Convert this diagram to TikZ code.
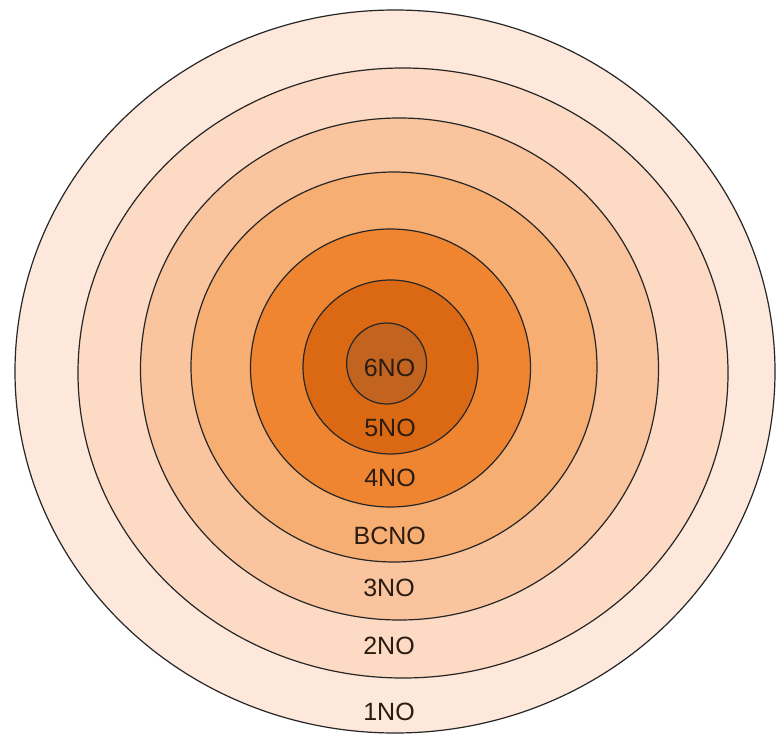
\documentclass[tikz,border=0pt]{standalone}
\usepackage{fontspec}
\setmainfont{Liberation Sans}
\definecolor{cA}{HTML}{FDE8DB}
\definecolor{cB}{HTML}{FCDAC4}
\definecolor{cC}{HTML}{FAC49E}
\definecolor{cD}{HTML}{F7AE72}
\definecolor{cE}{HTML}{EF8530}
\definecolor{cF}{HTML}{DB6914}
\definecolor{cG}{HTML}{C2641F}
\definecolor{txt}{HTML}{2A1C12}
\begin{document}
\begin{tikzpicture}[x=1pt,y=-1pt,
  ring/.style={draw=black!85,line width=1.2pt},
  lbl/.style={text=txt,font=\fontsize{25}{30}\selectfont,inner sep=0pt}]
\useasboundingbox (0,0) rectangle (776,735);
\fill[white] (0,0) rectangle (776,735);
\draw[ring,fill=cA] (395,371.5) ellipse [x radius=380,y radius=361.5];
\draw[ring,fill=cB] (403,373) ellipse [x radius=325,y radius=305];
\draw[ring,fill=cC] (399.5,369) ellipse [x radius=259,y radius=251];
\draw[ring,fill=cD] (394,367) ellipse [x radius=203,y radius=195];
\draw[ring,fill=cE] (390.5,368) ellipse [x radius=140,y radius=139];
\draw[ring,fill=cF] (390.5,367) ellipse [x radius=87.5,y radius=87];
\draw[ring,fill=cG] (386.6,363.5) ellipse [x radius=40,y radius=40.5];
\node[lbl] (n6) at (389.5,368) {6NO};
\node[lbl] (n5) at (390,428) {5NO};
\node[lbl] (n4) at (390,478) {4NO};
\node[lbl] (nb) at (389.7,536) {BCNO};
\node[lbl] (n3) at (389,588) {3NO};
\node[lbl] (n2) at (389,646) {2NO};
\node[lbl] (n1) at (389,712) {1NO};
\end{tikzpicture}
\end{document}
